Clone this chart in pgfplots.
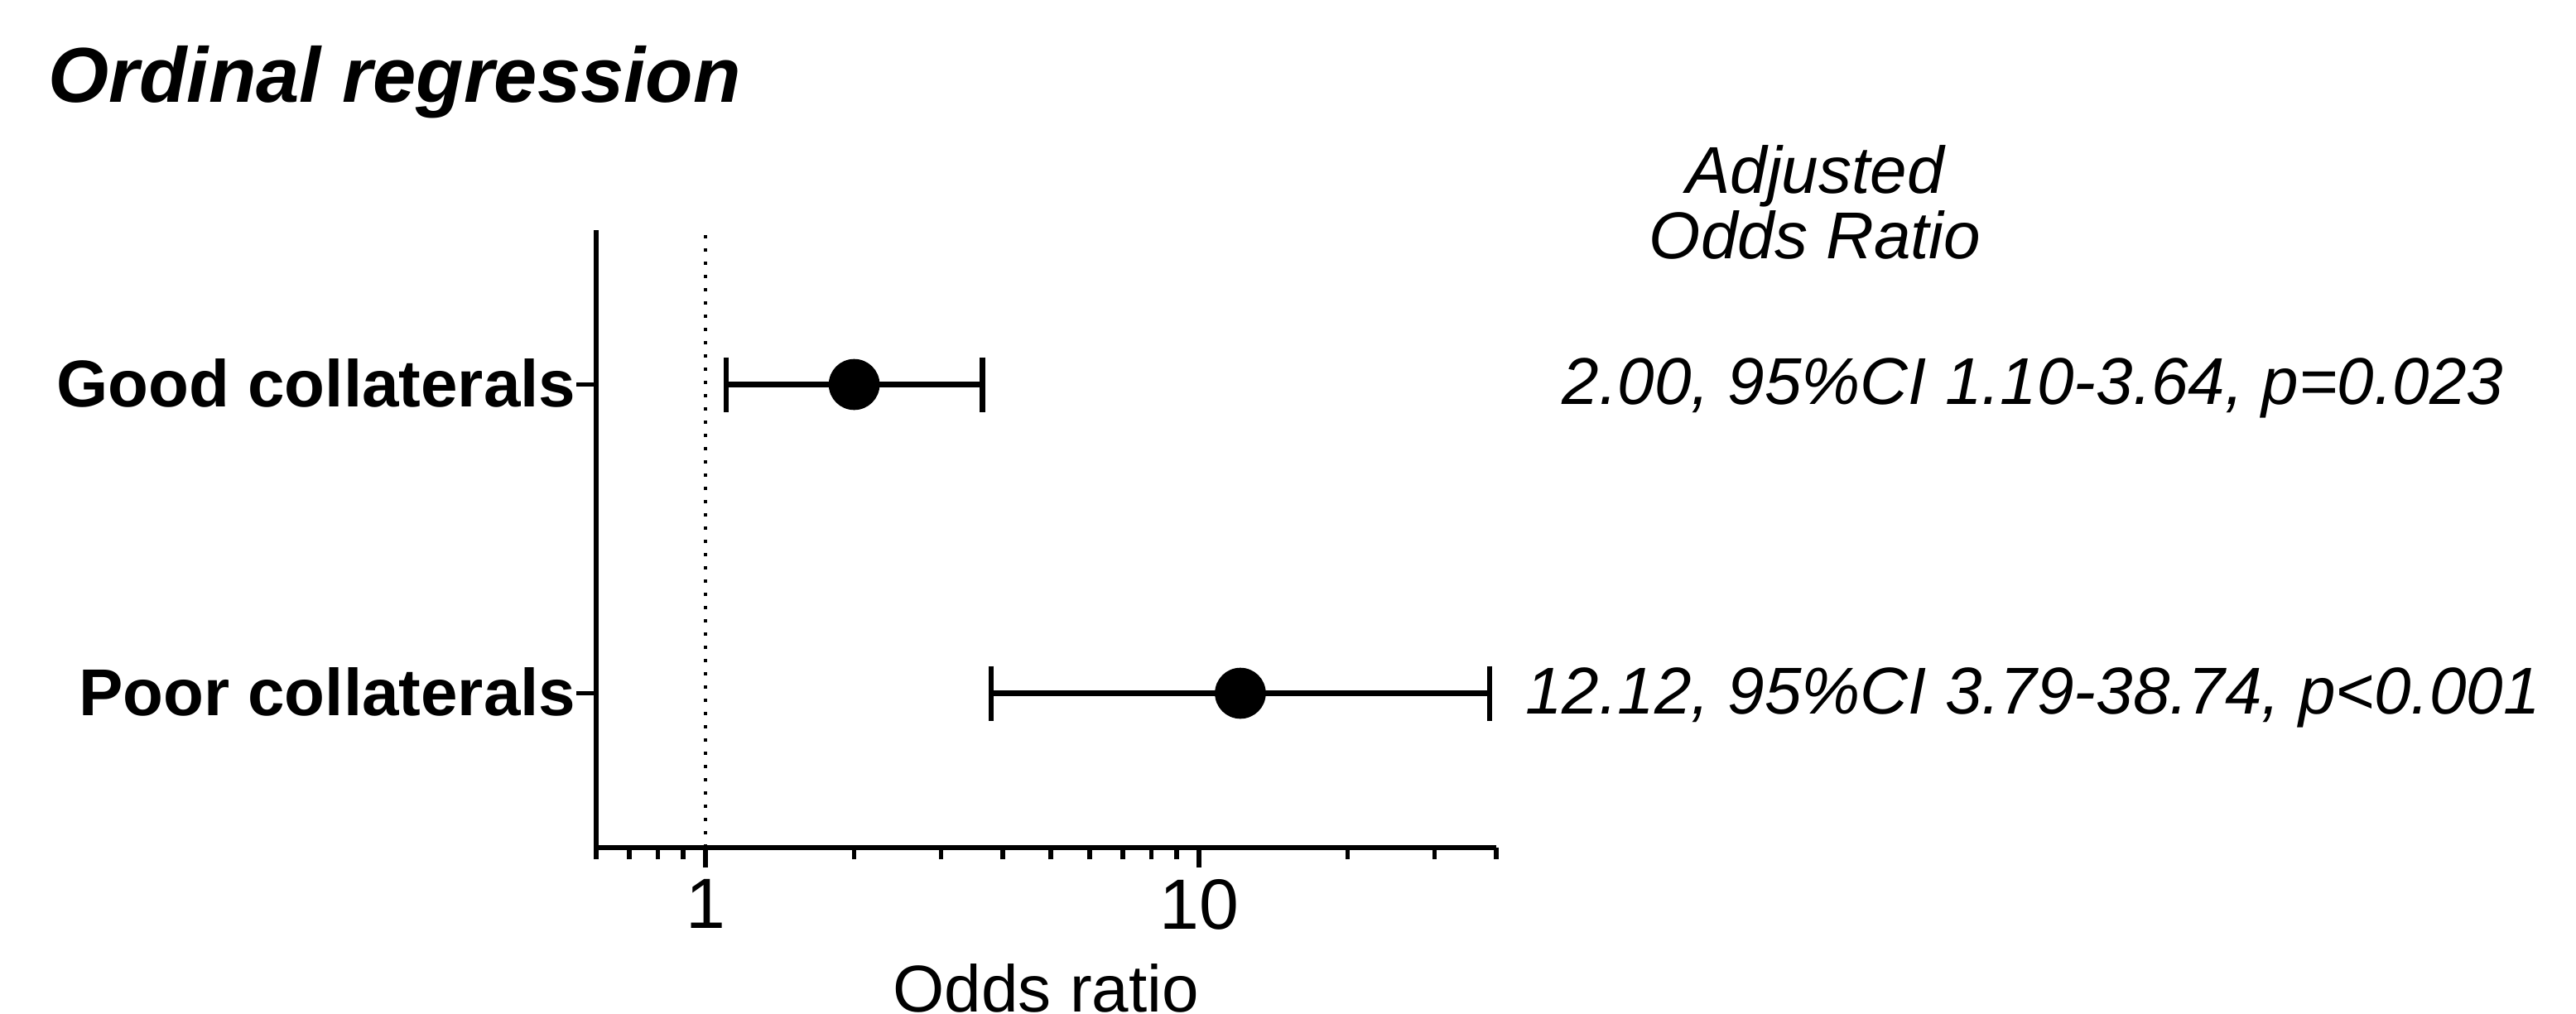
\documentclass[border=0pt]{standalone}
\usepackage{fontspec}
\setmainfont{Liberation Sans}
\usepackage{pgfplots}
\pgfplotsset{compat=1.18}
\begin{document}
\begin{tikzpicture}
\useasboundingbox (0,0) rectangle (777.75pt,306pt);
\clip (0,0) rectangle (777.75pt,306pt);
\begin{axis}[at={(180pt,50pt)}, anchor=south west, scale only axis,
  width=271.75pt, height=186.5pt,
  xmode=log, xmin=0.6, xmax=40, ymin=0, ymax=4,
  axis x line*=bottom, axis y line*=left,
  axis line style={line width=1.6pt, black},
  xtick={1,10}, xticklabels={1,10},
  minor xtick={0.6,0.7,0.8,0.9,2,3,4,5,6,7,8,9,20,30,40},
  ytick={1,3}, yticklabels={Poor collaterals,Good collaterals},
  tick align=outside, major tick length=6pt, minor tick length=3.5pt,
  every tick/.style={line width=1.4pt, black},
  xticklabel style={font=\fontsize{21.5}{25}\selectfont, inner sep=0pt, yshift=-3.5pt},
  yticklabel style={font=\fontsize{20}{24}\selectfont\bfseries, inner sep=0pt, yshift=0.5pt},
  /pgf/number format/assume math mode=true,
  clip=false]
\addplot[black, line width=1pt, dash pattern=on 1pt off 3pt] coordinates {(1,0) (1,4)};
\addplot[black, line width=1.6pt, mark=|, mark size=8.25pt, mark options={solid, line width=1.6pt}] coordinates {(1.10,3) (3.64,3)};
\addplot[black, line width=1.6pt, mark=|, mark size=8.25pt, mark options={solid, line width=1.6pt}] coordinates {(3.79,1) (38.74,1)};
\addplot[black, only marks, mark=*, mark size=7.5pt, mark options={fill=black}] coordinates {(2.00,3) (12.12,1)};
\end{axis}
\node[anchor=base west, inner sep=0pt, font=\fontsize{23.5}{28}\selectfont\bfseries\itshape] at (14.5pt,275pt) {Ordinal regression};
\node[anchor=base, inner sep=0pt, font=\fontsize{20}{24}\selectfont\itshape] at (548pt,247.5pt) {Adjusted};
\node[anchor=base, inner sep=0pt, font=\fontsize{20}{24}\selectfont\itshape] at (548pt,228pt) {Odds Ratio};
\node[anchor=base, inner sep=0pt, font=\fontsize{20}{24}\selectfont\itshape] at (613.75pt,184pt) {2.00, 95\%CI 1.10-3.64, p=0.023};
\node[anchor=base, inner sep=0pt, font=\fontsize{20}{24}\selectfont\itshape] at (613.75pt,90.5pt) {12.12, 95\%CI 3.79-38.74, p<0.001};
\node[anchor=base, inner sep=0pt, font=\fontsize{20}{24}\selectfont] at (315.8pt,0.3pt) {Odds ratio};
\end{tikzpicture}
\end{document}
